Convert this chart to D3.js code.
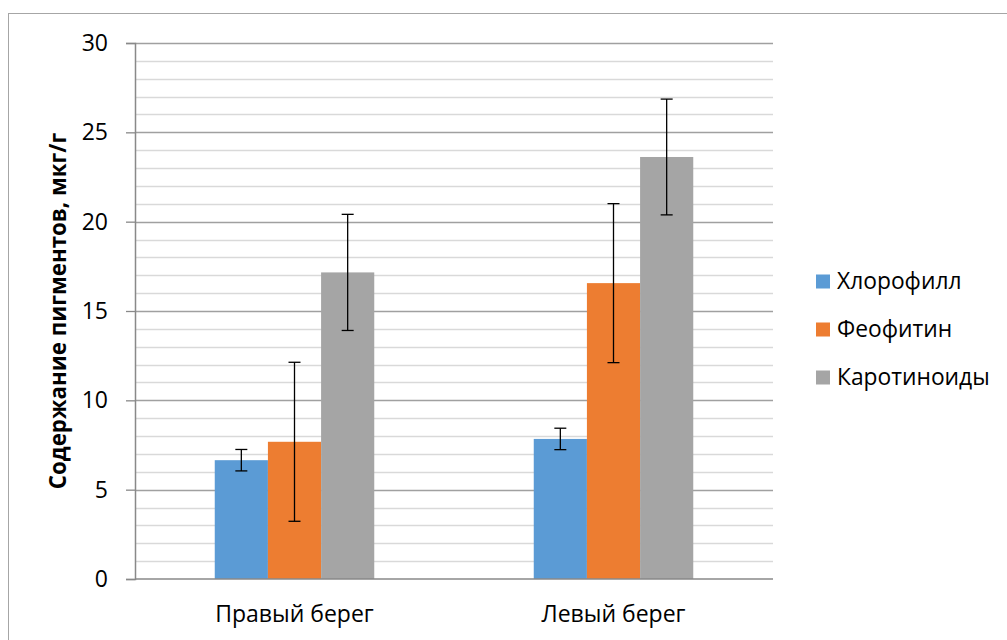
<!DOCTYPE html>
<html><head><meta charset="utf-8">
<script src="https://cdn.jsdelivr.net/npm/d3@7"></script>
<style>body{margin:0;background:#fff}svg{display:block}</style>
</head><body>
<script>
const categories = ["Правый берег", "Левый берег"];
const seriesNames = ["Хлорофилл", "Феофитин", "Каротиноиды"];
const chlorophyll = [6.65, 7.84];
const pheophytin = [7.68, 16.56];
const carotenoids = [17.16, 23.62];
const chlorophyllErr = [0.6, 0.6];
const pheophytinErr = [4.45, 4.45];
const carotenoidsErr = [3.25, 3.24];
const yTicks = [0, 5, 10, 15, 20, 25, 30];
const colors = ["#5b9bd5", "#ed7d31", "#a5a5a5"];

(function () {
const W = 1007, H = 640;
const svg = d3.select("body").append("svg").attr("width", W).attr("height", H);
const font = "'Open Sans', 'Noto Sans', sans-serif";

svg.append("rect").attr("x", 8.5).attr("y", 13.5).attr("width", 1010).attr("height", 640)
  .attr("fill", "none").attr("stroke", "#a6a6a6").attr("stroke-width", 1);

const pLeft = 135, pRight = 773, pTop = 43, pBottom = 579;
const y = d3.scaleLinear().domain([0, 30]).range([pBottom, pTop]);
const x0 = d3.scaleBand().domain(categories).range([pLeft, pRight]).paddingInner(0).paddingOuter(0);
const groupW = x0.bandwidth() / 2;
const x1 = d3.scaleBand().domain(seriesNames).range([0, groupW]);

// minor gridlines
const minor = d3.range(0, 31).filter(v => v % 5 !== 0);
svg.append("g").selectAll("line").data(minor).join("line")
  .attr("x1", pLeft).attr("x2", pRight).attr("y1", d => Math.round(y(d)) + 0.5).attr("y2", d => Math.round(y(d)) + 0.5)
  .attr("stroke", "#d9d9d9").attr("stroke-width", 1.5);
// major gridlines
svg.append("g").selectAll("line").data(yTicks.filter(d => d > 0)).join("line")
  .attr("x1", pLeft).attr("x2", pRight).attr("y1", d => Math.round(y(d)) + 0.5).attr("y2", d => Math.round(y(d)) + 0.5)
  .attr("stroke", "#a0a0a0").attr("stroke-width", 1.3);

// y axis
const yAxis = d3.axisLeft(y).tickValues(yTicks).tickSize(9).tickPadding(18);
const gy = svg.append("g").attr("transform", `translate(${pLeft},0)`).call(yAxis);
gy.select(".domain").attr("stroke", "#898989").attr("stroke-width", 1.5);
gy.selectAll(".tick line").attr("stroke", "#898989").attr("stroke-width", 1.3);
gy.selectAll(".tick text").attr("font-family", font).attr("font-size", 23).attr("fill", "#000");

const series = [
  {name: seriesNames[0], vals: chlorophyll, err: chlorophyllErr, color: colors[0]},
  {name: seriesNames[1], vals: pheophytin, err: pheophytinErr, color: colors[1]},
  {name: seriesNames[2], vals: carotenoids, err: carotenoidsErr, color: colors[2]}
];

const bars = [];
series.forEach(s => categories.forEach((c, i) => bars.push({cat: c, name: s.name, v: s.vals[i], e: s.err[i], color: s.color})));

const gBars = svg.append("g");
gBars.selectAll("rect").data(bars).join("rect")
  .attr("x", d => x0(d.cat) + groupW / 2 + x1(d.name))
  .attr("y", d => y(d.v))
  .attr("width", x1.bandwidth())
  .attr("height", d => y(0) - y(d.v))
  .attr("fill", d => d.color);

// x axis line
svg.append("line").attr("x1", pLeft).attr("x2", pRight).attr("y1", pBottom).attr("y2", pBottom)
  .attr("stroke", "#898989").attr("stroke-width", 1.5);

// error bars
const gErr = svg.append("g").attr("stroke", "#000").attr("stroke-width", 1.3);
bars.forEach(d => {
  const cx = x0(d.cat) + groupW / 2 + x1(d.name) + x1.bandwidth() / 2;
  gErr.append("line").attr("x1", cx).attr("x2", cx).attr("y1", y(d.v + d.e)).attr("y2", y(d.v - d.e));
  gErr.append("line").attr("x1", cx - 6).attr("x2", cx + 6).attr("y1", y(d.v + d.e)).attr("y2", y(d.v + d.e));
  gErr.append("line").attr("x1", cx - 6).attr("x2", cx + 6).attr("y1", y(d.v - d.e)).attr("y2", y(d.v - d.e));
});

// category labels
svg.append("g").selectAll("text").data(categories).join("text")
  .attr("x", d => x0(d) + x0.bandwidth() / 2).attr("y", 622)
  .attr("text-anchor", "middle").attr("font-family", font).attr("font-size", 23).attr("fill", "#000")
  .text(d => d);

// y title
svg.append("text").attr("transform", "translate(66,311) rotate(-90)")
  .attr("text-anchor", "middle").attr("font-family", font).attr("font-weight", "bold")
  .attr("font-size", 22.3).attr("fill", "#000").text("Содержание пигментов, мкг/г");

// legend
const lg = svg.append("g");
seriesNames.forEach((n, i) => {
  const cy = 281.5 + i * 48;
  lg.append("rect").attr("x", 816).attr("y", cy - 7).attr("width", 14).attr("height", 14).attr("fill", colors[i]);
  lg.append("text").attr("x", 837).attr("y", cy).attr("dy", "0.35em")
    .attr("font-family", font).attr("font-size", 22.8).attr("fill", "#000").text(n);
});
})();
</script>
</body></html>
